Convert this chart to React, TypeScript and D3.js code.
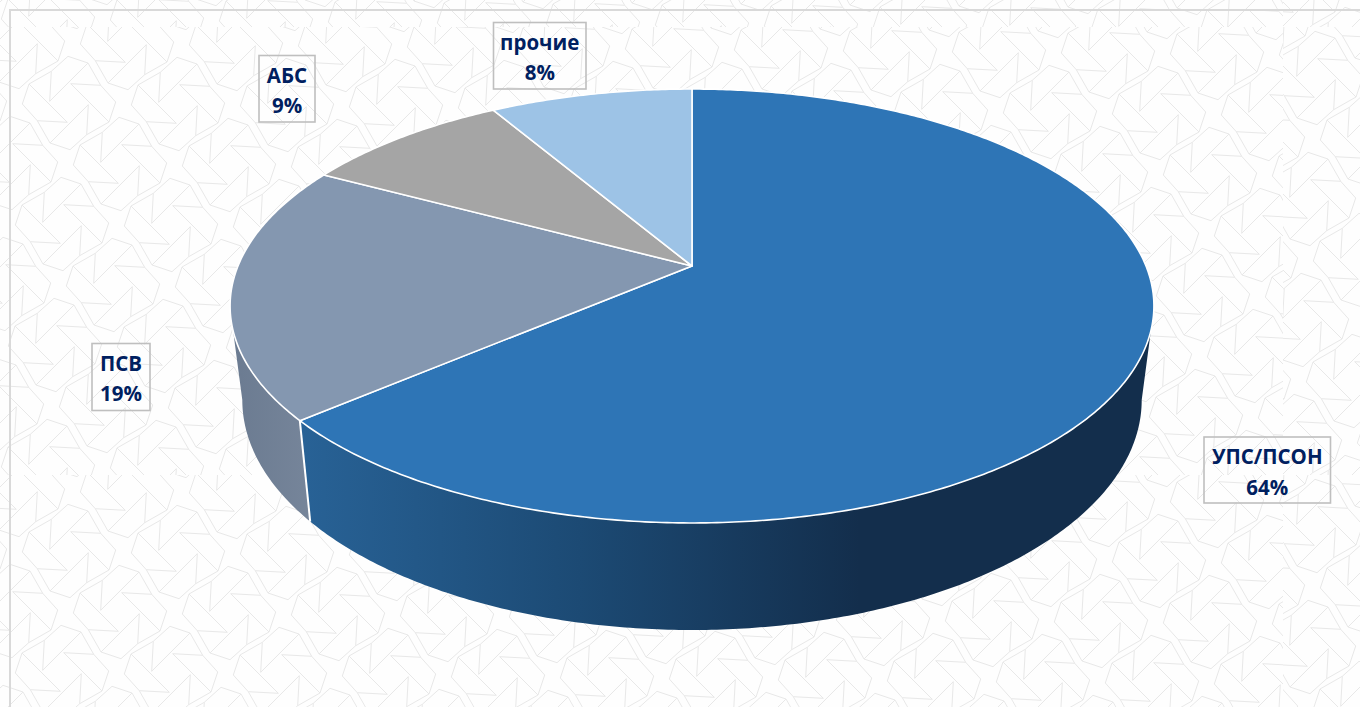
import React from "react";
import * as d3 from "d3";

const categories = ["УПС/ПСОН", "ПСВ", "АБС", "прочие"];
const shares = [63.75, 19.08, 8.7, 8.47];
const topColors = ["#2e75b6", "#8497b0", "#a5a5a5", "#9dc3e6"];

const W = 1360;
const H = 707;

// label box geometry, in the same order as categories
const boxX = [1204, 92, 259, 493.5];
const boxY = [437, 343.5, 55.5, 22.5];
const boxW = [126.5, 58, 56, 92.5];
const boxH = [66, 67, 66.5, 66.5];

type Proj = { cx: number; y0: number; a: number; b: number; k: number };
const top: Proj = { cx: 692, y0: 266, a: 454, b: 209.6, k: 0.1843 };
const bottom: Proj = { cx: 692, y0: 357.6, a: 442, b: 222.2, k: 0.1843 };

// perspective view of a circle: the slice centre is not the ellipse centre
const project = (p: Proj, t: number): [number, number] => {
  const d = 1 + p.k * Math.cos(t);
  return [p.cx + (p.a * Math.sin(t)) / d, p.y0 - (p.b * Math.cos(t)) / d];
};
const line = d3.line();
const arcPts = (p: Proj, t0: number, t1: number) => {
  const n = Math.max(2, Math.ceil(Math.abs(t1 - t0) / 0.01));
  return d3.range(n + 1).map((i) => project(p, t0 + ((t1 - t0) * i) / n));
};

const pie = d3.pie<number>().sort(null).value((d) => d);
const arcs = pie(shares);

const rad = (deg: number) => (deg * Math.PI) / 180;

const slicePath = (s: d3.PieArcDatum<number>) =>
  line([[top.cx, top.y0], ...arcPts(top, s.startAngle, s.endAngle)]) + "Z";

const wallPath = (t0top: number, t1top: number, t0bot: number, t1bot: number) =>
  line([...arcPts(top, t0top, t1top), ...arcPts(bottom, t1bot, t0bot)]) + "Z";

// background: pinwheel lattice of the picture tile
const wing: [number, number][][] = [
  [[19, -40], [-19.3, -1.7]],
  [[-17.7, -31.7], [-19.3, -1.7]],
  [[19, -40], [-1, -46.7]],
  [[-1, -46.7], [-17.7, -31.7]],
  [[-17.7, -31.7], [-40, -19]],
];
const pinwheel = (cx: number, cy: number) => {
  let d = "";
  for (let r = 0; r < 4; r++) {
    const c = Math.cos((r * Math.PI) / 2);
    const s = Math.sin((r * Math.PI) / 2);
    for (const [p, q] of wing) {
      d += `M${(cx + c * p[0] - s * p[1]).toFixed(1)},${(cy + s * p[0] + c * p[1]).toFixed(1)}`;
      d += `L${(cx + c * q[0] - s * q[1]).toFixed(1)},${(cy + s * q[0] + c * q[1]).toFixed(1)}`;
    }
  }
  return d;
};
const lattice = (ax: number, ay: number) => {
  let d = "";
  for (let i = -20; i <= 20; i++) {
    for (let j = -20; j <= 20; j++) {
      const x = ax + i * 109 + j * 51;
      const y = ay + i * 1 + j * 61;
      if (x > -60 && x < W + 60 && y > -60 && y < H + 60) d += pinwheel(x, y);
    }
  }
  return d;
};
const seamX = 1283;
const seamY = [-421, 27, 475];
const tiles = seamY.flatMap((sy) => [
  { x: 0, y: sy, w: seamX, ax: 69, ay: 103 + (sy - 27) },
  { x: seamX, y: sy, w: W - seamX, ax: 1316, ay: 78 + (sy - 27) },
]);

const fmt = d3.format(".0f");

export default function App() {
  const [blue] = arcs;
  return (
    <svg
      width={W}
      height={H}
      viewBox={`0 0 ${W} ${H}`}
      style={{ position: "fixed", left: 0, top: 0, display: "block", background: "#fefefe" }}
    >
      <defs>
        <linearGradient id="blueWall" gradientUnits="userSpaceOnUse" x1={300} x2={860} y1={0} y2={0}>
          <stop offset="0" stopColor="#286296" />
          <stop offset="0.5" stopColor="#1c4a74" />
          <stop offset="1" stopColor="#132e4c" />
        </linearGradient>
        <linearGradient id="steelWall" gradientUnits="userSpaceOnUse" x1={233} x2={310} y1={0} y2={0}>
          <stop offset="0" stopColor="#6b7b91" />
          <stop offset="1" stopColor="#76859a" />
        </linearGradient>
        {tiles.map((t, i) => (
          <clipPath id={`tile${i}`} key={i}>
            <rect x={t.x} y={t.y} width={t.w} height={448} />
          </clipPath>
        ))}
      </defs>

      <g fill="none" stroke="#e8e8e8" strokeWidth={1}>
        {tiles.map((t, i) => (
          <path key={i} clipPath={`url(#tile${i})`} d={lattice(t.ax, t.ay)} />
        ))}
      </g>

      <path d={`M10,${H}V10H${W}`} fill="none" stroke="#d9d9d9" strokeWidth={2} />

      <path d={wallPath(rad(107), blue.endAngle, rad(100.6), blue.endAngle)} fill="url(#blueWall)" />
      <path d={wallPath(blue.endAngle, rad(253), blue.endAngle, rad(259.4))} fill="url(#steelWall)" />
      <path d={line([project(top, blue.endAngle), project(bottom, blue.endAngle)])!} stroke="#ffffff" strokeWidth={2} fill="none" />

      <g stroke="#ffffff" strokeWidth={1.6} strokeLinejoin="round">
        {arcs.map((s, i) => (
          <path key={i} d={slicePath(s)} fill={topColors[i]} />
        ))}
      </g>

      {categories.map((c, i) => (
        <g key={c}>
          <rect x={boxX[i]} y={boxY[i]} width={boxW[i]} height={boxH[i]} fill="none" stroke="#bfbfbf" strokeWidth={1.6} />
          <text
            x={boxX[i] + boxW[i] / 2}
            textAnchor="middle"
            fontFamily="'Open Sans', sans-serif"
            fontWeight={700}
            fontSize={20.5}
            fill="#002060"
          >
            <tspan x={boxX[i] + boxW[i] / 2} y={boxY[i] + 27}>{c}</tspan>
            <tspan x={boxX[i] + boxW[i] / 2} y={boxY[i] + 57.5}>{fmt(shares[i])}%</tspan>
          </text>
        </g>
      ))}
    </svg>
  );
}
